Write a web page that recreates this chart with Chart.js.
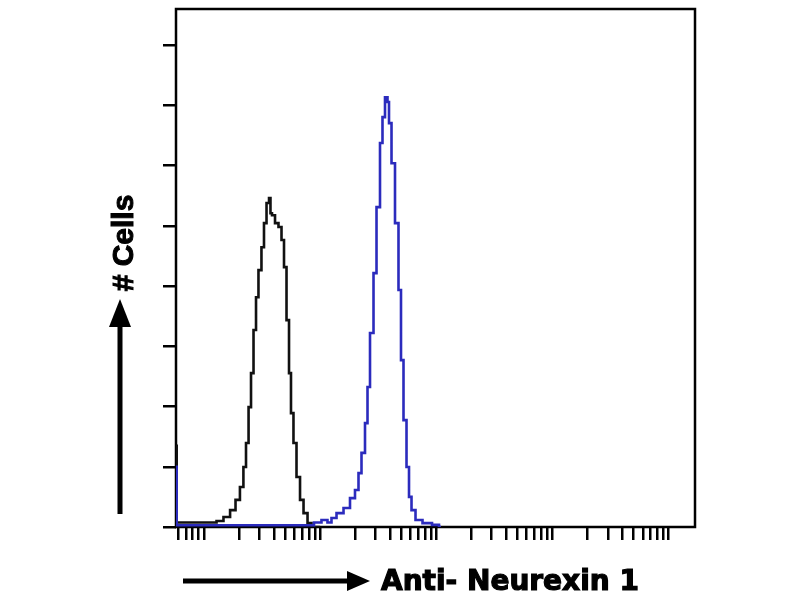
<!DOCTYPE html>
<html>
<head>
<meta charset="utf-8">
<script src="https://cdn.jsdelivr.net/npm/chart.js@4.4.0/dist/chart.umd.min.js"></script>
<style>
  body { margin: 0; background: #fff; }
</style>
</head>
<body>
<canvas id="histo" width="800" height="600"></canvas>
<script>
// fluorescence intensity (log axis) and cell counts
const controlX = [0.574, 0.59, 0.92, 1.2, 1.37, 1.58, 1.78, 1.96, 2.12, 2.25, 2.35, 2.49, 2.59, 2.75, 2.86, 3.03, 3.22, 3.35, 3.56, 3.70, 3.77, 3.93, 4.25, 4.51, 4.79, 4.98, 5.29, 5.50, 5.72, 6.07, 6.45, 6.98, 7.41, 8.18, 8.68, 10];
const controlY = [27, 1.5, 1.5, 1.5, 2, 3.3, 5.6, 9.0, 13.3, 19.9, 27.9, 39.8, 51.1, 65.4, 76.3, 85.3, 92.9, 100.9, 107.6, 109.2, 104.2, 103.5, 100.9, 99.6, 95.3, 86.3, 68.7, 51.1, 37.8, 27.9, 16.6, 9.0, 4.6, 1.3, 0, 0];

const neurexinX = [0.574, 0.59, 8.18, 9.58, 11.0, 12.15, 12.9, 14.83, 17.03, 19.17, 20.76, 22.03, 23.38, 25.31, 25.82, 27.95, 29.67, 31.48, 34.07, 34.75, 37.63, 38.38, 39.94, 42.38, 45.87, 48.68, 50.65, 53.77, 57.06, 59.37, 63.01, 69.57, 83.17, 101.4, 109.7];
const neurexinY = [20, 0.6, 0.6, 1.5, 2.3, 1.5, 3.0, 4.6, 6.3, 9.6, 12.3, 17.9, 24.6, 34.5, 46.5, 64.4, 84.3, 106.2, 127.5, 136.1, 142.7, 141.1, 134.1, 120.8, 100.9, 78.7, 55.4, 35.5, 19.9, 10.0, 5.6, 2.3, 1.3, 0.7, 0];

const xTicks = [0.6, 0.7, 0.8, 0.9,
  1, 2, 3, 4, 5, 6, 7, 8, 9,
  10, 20, 30, 40, 50, 60, 70, 80, 90,
  100, 200, 300, 400, 500, 600, 700, 800, 900,
  1000, 2000, 3000, 4000, 5000, 6000, 7000, 8000, 9000, 10000];
const yTicks = [0, 20, 40, 60, 80, 100, 120, 140, 160];

const xLabel = "Anti- Neurexin 1";
const yLabel = "# Cells";

function toPoints(xs, ys) {
  return xs.map((x, i) => ({ x: x, y: ys[i] }));
}

// frame round the plot, drawn under the curves
const frame = {
  id: "frame",
  beforeDatasetsDraw(chart) {
    const { ctx, chartArea: a } = chart;
    ctx.save();
    ctx.strokeStyle = "#000";
    ctx.lineWidth = 2.5;
    ctx.strokeRect(a.left, a.top, a.right - a.left, a.bottom - a.top);
    ctx.restore();
  }
};

// axis captions with their arrows
const captions = {
  id: "captions",
  afterDraw(chart) {
    const ctx = chart.ctx;
    ctx.save();
    ctx.fillStyle = "#000";
    ctx.strokeStyle = "#000";

    // horizontal arrow
    ctx.lineWidth = 5;
    ctx.beginPath();
    ctx.moveTo(183, 581);
    ctx.lineTo(352, 581);
    ctx.stroke();
    ctx.beginPath();
    ctx.moveTo(370, 581);
    ctx.lineTo(347, 571);
    ctx.lineTo(347, 591);
    ctx.closePath();
    ctx.fill();

    ctx.font = "bold 28px 'DejaVu Sans'";
    ctx.textAlign = "left";
    ctx.textBaseline = "alphabetic";
    ctx.lineWidth = 1.2;
    ctx.fillText(xLabel, 381, 590);
    ctx.strokeText(xLabel, 381, 590);

    // vertical arrow
    ctx.lineWidth = 5;
    ctx.beginPath();
    ctx.moveTo(120, 514);
    ctx.lineTo(120, 322);
    ctx.stroke();
    ctx.beginPath();
    ctx.moveTo(120, 299);
    ctx.lineTo(109, 327);
    ctx.lineTo(131, 327);
    ctx.closePath();
    ctx.fill();

    ctx.translate(133, 243);
    ctx.rotate(-Math.PI / 2);
    ctx.font = "bold 30px 'Liberation Sans'";
    ctx.textAlign = "center";
    ctx.lineWidth = 1;
    ctx.fillText(yLabel, 0, 0);
    ctx.strokeText(yLabel, 0, 0);
    ctx.restore();
  }
};

new Chart(document.getElementById("histo"), {
  type: "line",
  data: {
    datasets: [
      {
        label: "Neurexin 1",
        data: toPoints(neurexinX, neurexinY),
        borderColor: "#2b2bbd",
        borderWidth: 2.6,
        pointRadius: 0,
        stepped: "middle",
        fill: false
      },
      {
        label: "Control",
        data: toPoints(controlX, controlY),
        borderColor: "#111",
        borderWidth: 2.6,
        pointRadius: 0,
        stepped: "middle",
        fill: false
      }
    ]
  },
  options: {
    responsive: false,
    animation: false,
    layout: { padding: { left: 163, right: 105, top: 9, bottom: 60 } },
    plugins: {
      legend: { display: false },
      tooltip: { enabled: false }
    },
    scales: {
      x: {
        type: "logarithmic",
        min: 0.574,
        max: 16870,
        bounds: "data",
        border: { display: false },
        grid: { drawOnChartArea: false, color: "#000", lineWidth: 2.5, tickLength: 13 },
        ticks: { display: false },
        afterBuildTicks: s => { s.ticks = xTicks.map(v => ({ value: v })); },
        afterFit: s => { s.height = 13; }
      },
      y: {
        type: "linear",
        min: 0,
        max: 172,
        bounds: "data",
        border: { display: false },
        grid: { drawOnChartArea: false, color: "#000", lineWidth: 2.5, tickLength: 13 },
        ticks: { display: false },
        afterBuildTicks: s => { s.ticks = yTicks.map(v => ({ value: v })); },
        afterFit: s => { s.width = 13; }
      }
    }
  },
  plugins: [frame, captions]
});
</script>
</body>
</html>
